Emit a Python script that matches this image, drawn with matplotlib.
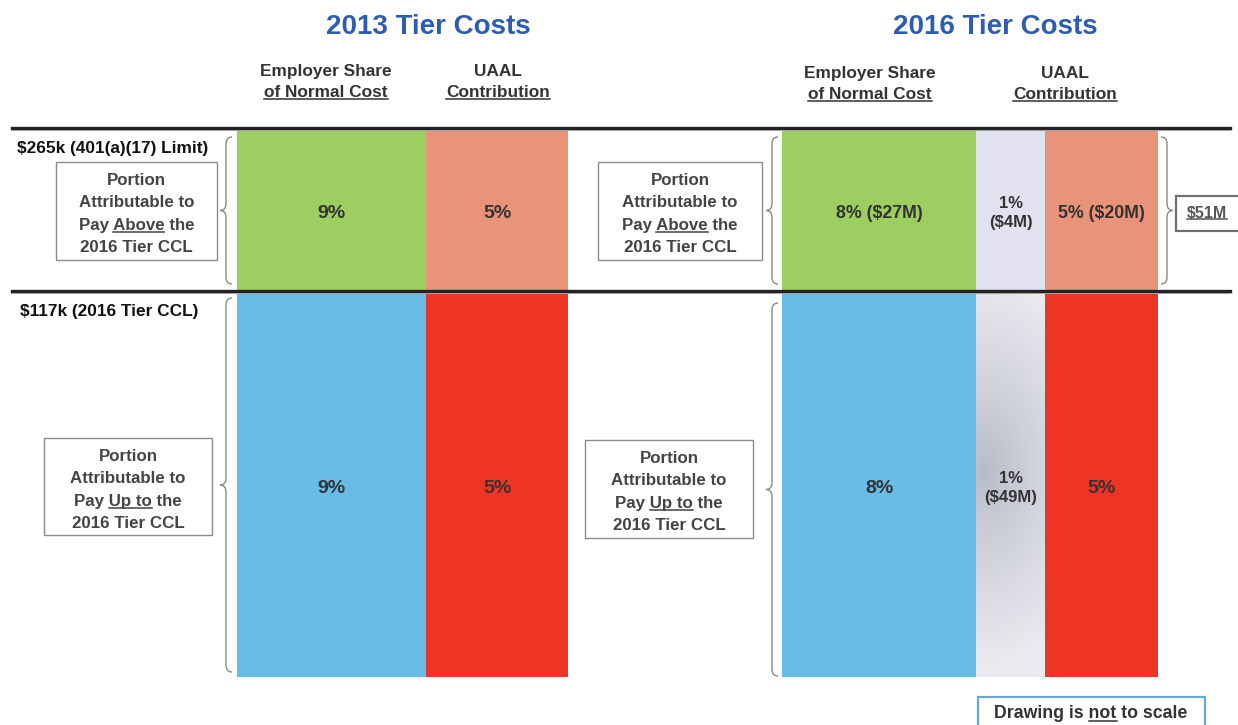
import numpy as np
import matplotlib.pyplot as plt
from matplotlib.path import Path
from matplotlib.patches import PathPatch, Rectangle

# Chart content
tier_titles = ["2013 Tier Costs", "2016 Tier Costs"]
col_headers_2013 = [("Employer Share", "of Normal Cost"), ("UAAL", "Contribution")]
col_headers_2016 = [("Employer Share", "of Normal Cost"), ("UAAL", "Contribution")]
thresholds = ["$265k (401(a)(17) Limit)", "$117k (2016 Tier CCL)"]
above_2013 = ["9%", "5%"]
upto_2013 = ["9%", "5%"]
above_2016 = ["8% ($27M)", "1%\n($4M)", "5% ($20M)"]
upto_2016 = ["8%", "1%\n($49M)", "5%"]
total_above_2016 = "$51M"
note = [("Drawing is ", False), ("not", True), (" to scale", False)]
box_above = [[("Portion", False)], [("Attributable to", False)],
             [("Pay ", False), ("Above", True), (" the", False)],
             [("2016 Tier CCL", False)]]
box_upto = [[("Portion", False)], [("Attributable to", False)],
            [("Pay ", False), ("Up to", True), (" the", False)],
            [("2016 Tier CCL", False)]]

# Layout (pixel space)
W, H = 1238, 725
edges_2013 = [237, 426, 568]
edges_2016 = [782, 976, 1045, 1158]
band_top, band_mid, band_bot = 128, 291, 677
colors_above_2013 = ["#9dce62", "#e8937a"]
colors_upto_2013 = ["#69bbe8", "#ee3424"]
colors_above_2016 = ["#9dce62", "#e1e1ef", "#e8937a"]
colors_upto_2016 = ["#69bbe8", "#dcdde3", "#ee3424"]
FONT = ["Liberation Sans", "DejaVu Sans"]
TXT = "#333333"

fig = plt.figure(figsize=(W / 100, H / 100), dpi=100)
ax = fig.add_axes([0, 0, 1, 1])
ax.set_xlim(0, W)
ax.set_ylim(H, 0)
ax.axis("off")
renderer = fig.canvas.get_renderer()


def measure(s, size):
    t = ax.text(0, 0, s, fontsize=size, fontweight="bold", family=FONT)
    w = t.get_window_extent(renderer).width
    t.remove()
    return w


def draw_line(x, y, segs, size, color=TXT, ha="center"):
    full = "".join(s for s, _ in segs)
    ax.text(x, y, full, ha=ha, va="center", fontsize=size, color=color,
            fontweight="bold", family=FONT, zorder=6)
    wfull = measure(full, size)
    left = x - wfull / 2 if ha == "center" else x
    yb = y + 0.40 * size * 100 / 72
    pos = ""
    for s, u in segs:
        if u:
            b = measure(pos + s, size)
            a = b - measure(s, size)
            ax.plot([left + a, left + b], [yb, yb], color=color, lw=1.1, zorder=6)
        pos += s


def brace(x, y0, y1, w, direction=1, color="#8a8a8a"):
    # direction=1 -> "{" (tip on the left), -1 -> "}" (tip on the right)
    ym = (y0 + y1) / 2
    r = 7
    xs = x + direction * w
    xm = x + direction * w / 2
    verts = [(xs, y0), (xm, y0), (xm, y0 + r), (xm, ym - r), (xm, ym), (x, ym),
             (xm, ym), (xm, ym + r), (xm, y1 - r), (xm, y1), (xs, y1)]
    codes = [Path.MOVETO, Path.CURVE3, Path.CURVE3, Path.LINETO, Path.CURVE3, Path.CURVE3,
             Path.CURVE3, Path.CURVE3, Path.LINETO, Path.CURVE3, Path.CURVE3]
    ax.add_patch(PathPatch(Path(verts, codes), fill=False, edgecolor=color, lw=1.0, zorder=4))


def draw_columns(edges, above, upto, c_above, c_upto):
    lefts = np.array(edges[:-1])
    widths = np.diff(edges)
    bars_a = ax.bar(lefts, [band_mid - band_top] * len(above), width=widths,
                    bottom=band_top, align="edge", color=c_above, zorder=2)
    bars_u = ax.bar(lefts, [band_bot - band_mid] * len(upto), width=widths,
                    bottom=band_mid, align="edge", color=c_upto, zorder=2)
    for i in range(len(above)):
        cx = lefts[i] + widths[i] / 2
        for lab, yc in [(above[i], (band_top + band_mid) / 2 + 4), (upto[i], 488)]:
            lines = lab.split("\n")
            if len(lines) == 1:
                draw_line(cx, yc, [(lab, False)], 12.8 if len(lab) > 3 else 14)
            else:
                draw_line(cx, yc - 10, [(lines[0], False)], 12)
                draw_line(cx, yc + 9, [(lines[1], False)], 12)
    return bars_a, bars_u


draw_columns(edges_2013, above_2013, upto_2013, colors_above_2013, colors_upto_2013)
bars_a, bars_u = draw_columns(edges_2016, above_2016, upto_2016, colors_above_2016, colors_upto_2016)

# soft grey radial shading in the 2016 UAAL (up to CCL) column
gx = np.linspace(edges_2016[1], edges_2016[2], 80)
gy = np.linspace(band_mid, band_bot, 300)
GX, GY = np.meshgrid(gx, gy)
d = np.sqrt(((GX - 985) / 120) ** 2 + ((GY - 470) / 200) ** 2)
d = np.clip(d, 0, 1) ** 0.8
dark = np.array([0.71, 0.73, 0.78])
light = np.array([0.92, 0.92, 0.94])
img = dark + (light - dark) * d[..., None]
im = ax.imshow(img, extent=(edges_2016[1], edges_2016[2], band_bot, band_mid),
               origin="upper", aspect="auto", zorder=3)
im.set_clip_path(bars_u[1])
ax.set_xlim(0, W)
ax.set_ylim(H, 0)

# horizontal threshold lines
for yl in [band_top, band_mid]:
    ax.plot([12, 1230], [yl + 2, yl + 2], color="#bbbbbb", lw=1.5, zorder=4)
    ax.plot([12, 1230], [yl, yl], color="#232323", lw=2.4, zorder=5)

# titles and column headers
for title, xc in zip(tier_titles, [428, 995]):
    ax.text(xc, 27, title, ha="center", va="center", fontsize=20, color="#2c5db3",
            fontweight="bold", family=FONT)
for (l1, l2), xc in zip(col_headers_2013, [326, 498]):
    draw_line(xc, 71, [(l1, False)], 12.4)
    draw_line(xc, 92, [(l2, True)], 12.4)
for (l1, l2), xc in zip(col_headers_2016, [870, 1065]):
    draw_line(xc, 73, [(l1, False)], 12.4)
    draw_line(xc, 94, [(l2, True)], 12.4)

# threshold labels
draw_line(17, 148, [(thresholds[0], False)], 12.4, color="#111111", ha="left")
draw_line(20, 311, [(thresholds[1], False)], 12.4, color="#111111", ha="left")

# explanation boxes
for (x0, y0, x1, y1), lines in [((56, 162, 217, 260), box_above),
                                ((44, 438, 212, 535), box_upto),
                                ((598, 162, 762, 260), box_above),
                                ((585, 440, 753, 538), box_upto)]:
    ax.add_patch(Rectangle((x0, y0), x1 - x0, y1 - y0, facecolor="white",
                           edgecolor="#8c8c8c", lw=1.0, zorder=4))
    cx = (x0 + x1) / 2
    for k, segs in enumerate(lines):
        draw_line(cx, y0 + 18 + k * 22.5, segs, 12.2, color="#444444")

# braces
brace(220, 137, 284, 12)
brace(220, 298, 672, 12)
brace(766, 137, 284, 12)
brace(766, 303, 676, 12)
brace(1173, 137, 284, 12, direction=-1)

# total box
ax.add_patch(Rectangle((1176, 196), 80, 35, facecolor="white", edgecolor="#707070",
                       lw=1.6, zorder=4))
draw_line(1207, 213, [(total_above_2016, True)], 11.5, color="#555555")

# not-to-scale note
ax.add_patch(Rectangle((978, 697), 227, 40, facecolor="white", edgecolor="#6aa8d0",
                       lw=1.6, zorder=4))
draw_line(1091, 714, note, 12.8, color="#333333")

fig.savefig("out.png", dpi=100)
